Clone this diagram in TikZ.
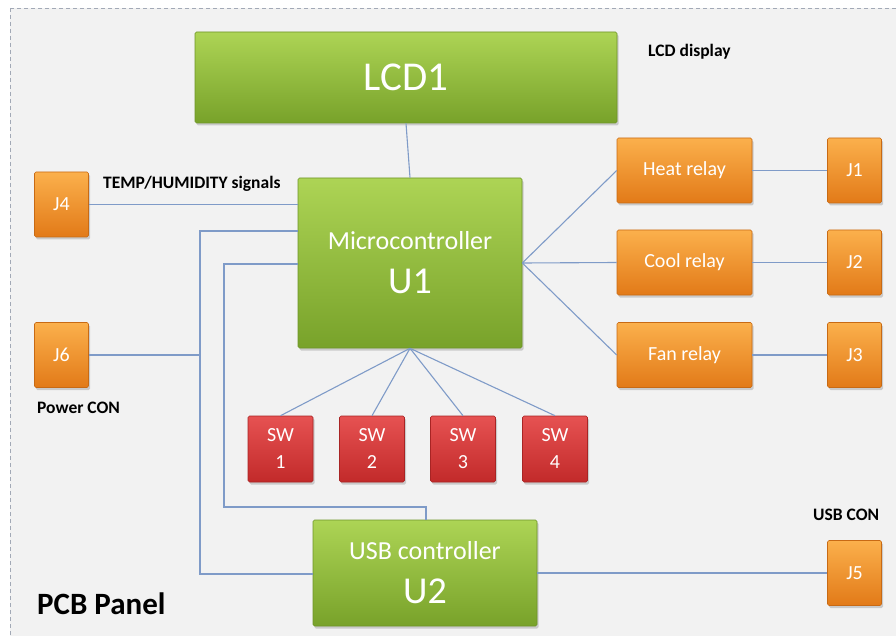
\documentclass[tikz,border=0pt]{standalone}
\usepackage{fontspec}
\setmainfont{Carlito}
\usetikzlibrary{shadows}
\definecolor{panelbg}{HTML}{F2F2F2}
\definecolor{panelrim}{HTML}{A2A9B6}
\definecolor{wire}{HTML}{7F9BC8}
\definecolor{greentop}{HTML}{ADD455}
\definecolor{greenbot}{HTML}{78A22A}
\definecolor{greenrim}{HTML}{6E9528}
\definecolor{orangetop}{HTML}{FBB04C}
\definecolor{orangebot}{HTML}{E27A18}
\definecolor{orangerim}{HTML}{C86A14}
\definecolor{redtop}{HTML}{E65252}
\definecolor{redbot}{HTML}{C22A2A}
\definecolor{redrim}{HTML}{A82424}
\tikzset{
  block/.style={rectangle, rounded corners=1.5pt, inner sep=0pt, align=center,
    text=white, line width=0.6pt,
    drop shadow={shadow xshift=1.5pt, shadow yshift=-2.5pt, opacity=0.35}},
  greenblock/.style={block, draw=greenrim, top color=greentop, bottom color=greenbot},
  orangeblock/.style={block, draw=orangerim, top color=orangetop, bottom color=orangebot,
    font=\fontsize{20}{22}\selectfont},
  redblock/.style={block, draw=redrim, top color=redtop, bottom color=redbot,
    font=\fontsize{20}{27}\selectfont, minimum width=65pt, minimum height=66pt},
  conn/.style={orangeblock, minimum width=54pt, minimum height=65pt},
  relay/.style={orangeblock, minimum width=135pt, minimum height=65pt},
  chip/.style={greenblock, minimum width=224pt, font=\fontsize{26}{44}\selectfont},
  bigline/.style={font=\fontsize{38}{40}\selectfont},
  wirestyle/.style={draw=wire, line width=1.1pt},
  tag/.style={font=\bfseries\fontsize{17.5}{20}\selectfont, text=black, inner sep=0pt, anchor=west},
}
\newcommand{\chipname}[1]{{\fontsize{38}{40}\selectfont #1}}
\begin{document}
\begin{tikzpicture}[x=1pt, y=-1pt]
  \useasboundingbox (0,0) rectangle (896,636);
  % panel background with dashed outline
  \begin{scope}
    \clip (0,0) rectangle (896,636);
    \draw[panelrim, fill=panelbg, dash pattern=on 4pt off 3pt, line width=0.8pt]
      (10,8) rectangle (910,650);
  \end{scope}

  % main blocks
  \node[greenblock, minimum width=422pt, minimum height=91pt,
        font=\fontsize{41}{44}\selectfont] (lcd) at (406,77.5) {LCD1};
  \node[chip, minimum height=170pt] (u1) at (410,263)
    {Microcontroller\\\chipname{U1}};
  \node[chip, minimum height=106pt] (u2) at (425,573)
    {USB controller\\\chipname{U2}};

  % connectors on the left
  \node[conn] (j4) at (61.5,204.5) {J4};
  \node[conn] (j6) at (61.5,355) {J6};

  % relays and their connectors
  \node[relay] (heat) at (684.5,170.5) {Heat relay};
  \node[relay] (cool) at (684.5,262.5) {Cool relay};
  \node[relay] (fan)  at (684.5,355)   {Fan relay};
  \node[conn] (j1) at (854.5,170.5) {J1};
  \node[conn] (j2) at (854.5,262.5) {J2};
  \node[conn] (j3) at (854.5,355)   {J3};
  \node[conn] (j5) at (854.5,573)   {J5};

  % push buttons
  \node[redblock] (sw1) at (280.5,449) {SW\\1};
  \node[redblock] (sw2) at (372,449)   {SW\\2};
  \node[redblock] (sw3) at (463,449)   {SW\\3};
  \node[redblock] (sw4) at (555,449)   {SW\\4};

  % labels
  \node[tag] (lcdtag) at (648,52) {LCD display};
  \node[tag] (temptag) at (103,184) {TEMP/HUMIDITY signals};
  \node[tag] (powtag) at (37,408) {Power CON};
  \node[tag] (usbtag) at (813,515) {USB CON};
  \node[tag, font=\bfseries\fontsize{31}{34}\selectfont] (title) at (37,604) {PCB Panel};

  % bus corners
  \coordinate (pa) at (200,231);
  \coordinate (pb) at (200,574);
  \coordinate (ua) at (224,264);
  \coordinate (ub) at (224,507);
  \coordinate (uc) at (426,507);

  % wiring
  \draw[wirestyle] (lcd.south) -- (u1.north);
  \draw[wirestyle] (j4.east) -- (j4.east -| u1.west);
  \draw[wirestyle] (j6.east) -- (j6.east -| pa);
  \draw[wirestyle] (pa -| u1.west) -- (pa) -- (pb) -- (pb -| u2.west);
  \draw[wirestyle] (ua -| u1.west) -- (ua) -- (ub) -- (uc) -- (uc |- u2.north);
  \draw[wirestyle] (u1.east) -- (heat.west);
  \draw[wirestyle] (u1.east) -- (cool.west);
  \draw[wirestyle] (u1.east) -- (fan.west);
  \draw[wirestyle] (heat.east) -- (j1.west);
  \draw[wirestyle] (cool.east) -- (j2.west);
  \draw[wirestyle] (fan.east) -- (j3.west);
  \draw[wirestyle] (u2.east) -- (j5.west);
  \foreach \s in {sw1,sw2,sw3,sw4}
    \draw[wirestyle] (u1.south) -- (\s.north);
\end{tikzpicture}
\end{document}
